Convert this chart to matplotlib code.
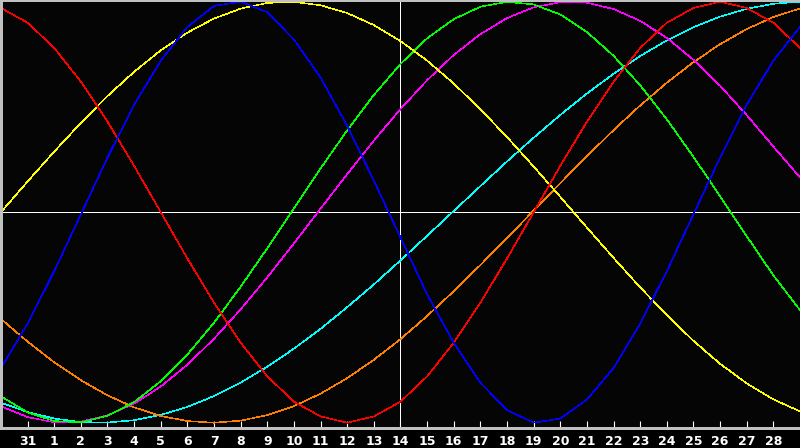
import matplotlib
matplotlib.use("Agg")
import matplotlib.pyplot as plt

days = list(range(31))
tick_days = list(range(1, 30))
tick_labels = ['31'] + [str(d) for d in range(1, 29)]
today = 15

blue = [-0.74, -0.53, -0.28, -0.01, 0.26, 0.51, 0.72, 0.88, 0.98, 1.00,
        0.95, 0.82, 0.64, 0.41, 0.15, -0.12, -0.39, -0.62, -0.81, -0.94,
        -1.00, -0.98, -0.89, -0.74, -0.53, -0.28, -0.01, 0.26, 0.51, 0.72, 0.88]
red = [0.97, 0.90, 0.78, 0.62, 0.43, 0.22, 0.00, -0.22, -0.43, -0.62,
       -0.78, -0.90, -0.97, -1.00, -0.97, -0.90, -0.78, -0.62, -0.43, -0.22,
       0.00, 0.22, 0.43, 0.62, 0.78, 0.90, 0.97, 1.00, 0.97, 0.90, 0.78]
green = [-0.875, -0.951, -0.992, -0.998, -0.967, -0.902, -0.803, -0.676, -0.525, -0.354,
         -0.171, 0.019, 0.208, 0.389, 0.557, 0.704, 0.826, 0.917, 0.976, 0.999,
         0.987, 0.939, 0.856, 0.743, 0.603, 0.441, 0.263, 0.076, -0.114, -0.300, -0.465]
magenta = [-0.922, -0.973, -0.998, -0.995, -0.965, -0.909, -0.828, -0.724, -0.601, -0.461,
           -0.309, -0.148, 0.017, 0.181, 0.340, 0.490, 0.627, 0.747, 0.846, 0.922,
           0.973, 0.998, 0.995, 0.965, 0.909, 0.828, 0.724, 0.601, 0.461, 0.312, 0.165]
yellow = [0.000, 0.146, 0.288, 0.424, 0.552, 0.667, 0.769, 0.853, 0.920, 0.967,
          0.994, 0.999, 0.983, 0.946, 0.889, 0.813, 0.720, 0.611, 0.489, 0.357,
          0.217, 0.073, -0.073, -0.217, -0.357, -0.489, -0.611, -0.720, -0.813, -0.889, -0.946]
orange = [-0.507, -0.615, -0.713, -0.798, -0.870, -0.927, -0.968, -0.992, -1.000, -0.990,
          -0.964, -0.921, -0.862, -0.788, -0.701, -0.603, -0.493, -0.375, -0.251, -0.123,
          0.008, 0.138, 0.266, 0.390, 0.507, 0.615, 0.713, 0.798, 0.870, 0.927, 0.968]
cyan = [-0.905, -0.949, -0.980, -0.997, -0.999, -0.988, -0.963, -0.925, -0.873, -0.809,
        -0.734, -0.648, -0.554, -0.451, -0.343, -0.229, -0.112, 0.006, 0.124, 0.241,
        0.354, 0.462, 0.564, 0.657, 0.742, 0.816, 0.879, 0.929, 0.966, 0.990, 1.000]

series = [
    (cyan, '#00ffff'),
    (orange, '#ff8000'),
    (magenta, '#ff00ff'),
    (green, '#00ff00'),
    (yellow, '#ffff00'),
    (red, '#ff0000'),
    (blue, '#0000ff'),
]

fig = plt.figure(figsize=(8.0, 4.48), dpi=100, facecolor='black')
ax = fig.add_axes([0.0012, 20 / 448, 0.9988, 428 / 448])
ax.set_facecolor('#050505')

ax.axhline(0, color='white', lw=0.6, antialiased=False, zorder=1)
ax.axvline(today, color='white', lw=0.6, antialiased=False, zorder=1)

for vals, col in series:
    ax.plot(days, vals, color=col, lw=0.4, antialiased=False, zorder=2)

ax.set_xlim(0, 30)
ax.set_ylim(-1.025, 1.008)

for side in ['left', 'top', 'bottom']:
    ax.spines[side].set_color('#c0c0c0')
    ax.spines[side].set_linewidth(1.0)
    ax.spines[side].set_antialiased(False)
ax.spines['right'].set_visible(False)

ax.set_xticks(tick_days)
ax.set_xticklabels(tick_labels)
ax.set_yticks([])
ax.tick_params(axis='x', direction='in', length=5, width=0.8, color='white',
               labelcolor='white', labelsize=9, pad=5)
for lab in ax.get_xticklabels():
    lab.set_fontweight('bold')
    lab.set_family('DejaVu Sans')

fig.savefig('out.png', dpi=100, facecolor='black')
